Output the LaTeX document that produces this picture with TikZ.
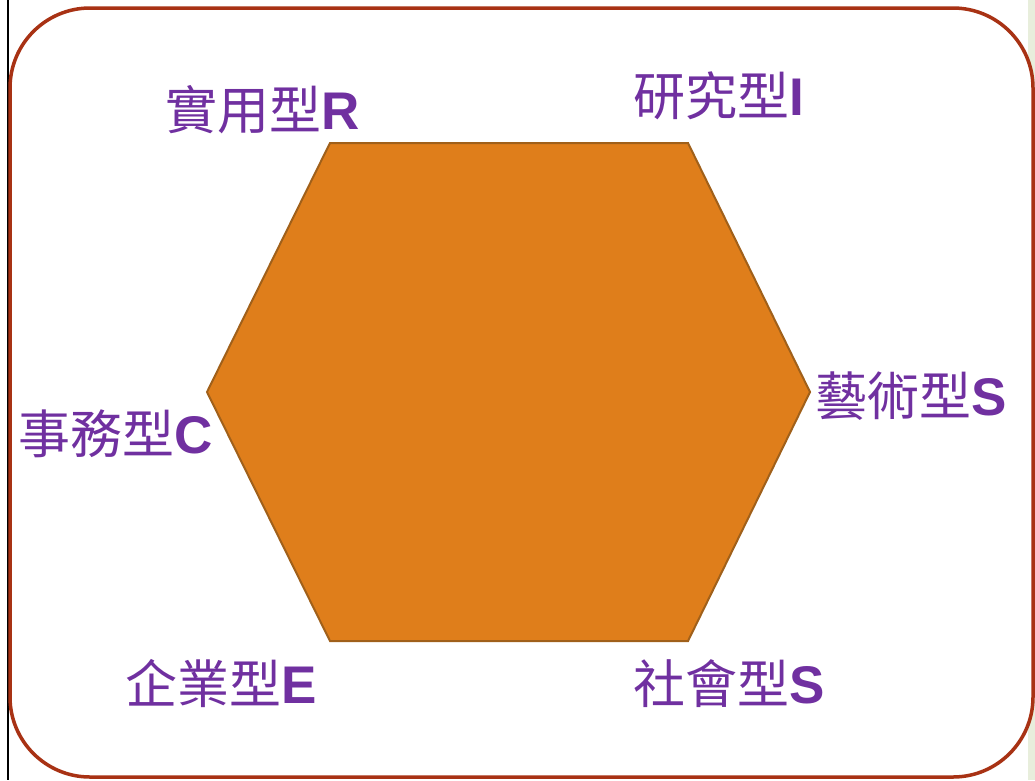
\documentclass[tikz,border=0pt]{standalone}
\usepackage{fontspec}
\newfontfamily\cjkfont{Noto Sans CJK TC}
\newfontfamily\latfont{Liberation Sans}
\definecolor{lblpurple}{HTML}{7030A0}
\definecolor{hexfill}{HTML}{DF7E1B}
\definecolor{hexline}{HTML}{A0601A}
\definecolor{frameline}{HTML}{A83214}
\definecolor{stripgreen}{HTML}{E8EEDC}
\tikzset{
  lbl/.style={anchor=base west, inner sep=0pt, text=lblpurple, font=\cjkfont\fontsize{52}{52}\selectfont},
}
\newcommand{\lat}[1]{{\latfont\bfseries\fontsize{53}{53}\selectfont #1}}
\begin{document}
\begin{tikzpicture}[x=1pt,y=-1pt]
\useasboundingbox (0,0) rectangle (1035,780);
\fill[white] (0,0) rectangle (1035,780);
\fill[stripgreen] (1028,0) rectangle (1035,780);
\draw[black, line width=1.2pt] (8,0) -- (8,780);
\draw[frameline, line width=3.5pt, fill=white, rounded corners=80pt] (10,8) rectangle (1033,777);
\coordinate (h1) at (330,143);
\coordinate (h2) at (688,143);
\coordinate (h3) at (810,392);
\coordinate (h4) at (688,641);
\coordinate (h5) at (330,641);
\coordinate (h6) at (207,392);
\draw[hexline, fill=hexfill, line width=2pt, line join=miter] (h1) -- (h2) -- (h3) -- (h4) -- (h5) -- (h6) -- cycle;
\node[lbl] (r) at (165,129) {實用型\lat{R}};
\node[lbl] (i) at (633,115) {研究型\lat{I}};
\node[lbl] (s1) at (815,415) {藝術型\lat{S}};
\node[lbl] (c) at (18,453) {事務型\lat{C}};
\node[lbl] (e) at (125,703) {企業型\lat{E}};
\node[lbl] (s2) at (633,703) {社會型\lat{S}};
\end{tikzpicture}
\end{document}
